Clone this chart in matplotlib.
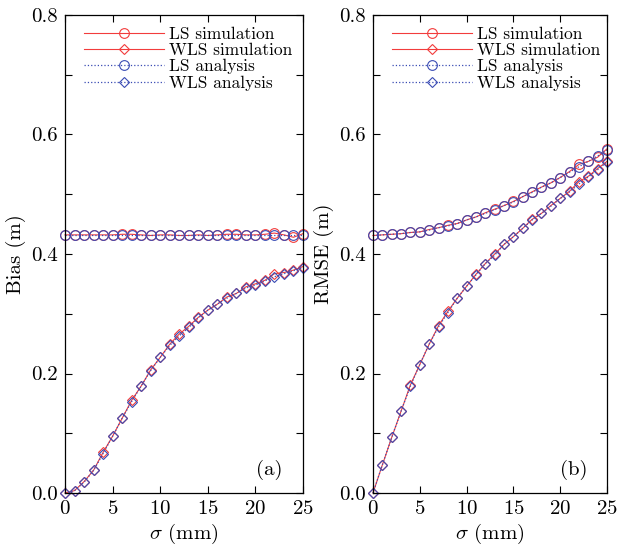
import numpy as np
import matplotlib
matplotlib.use("Agg")
import matplotlib.pyplot as plt
from matplotlib.ticker import MultipleLocator

plt.rcParams['font.family'] = ['cmr10', 'DejaVu Serif']
plt.rcParams['mathtext.fontset'] = 'cm'
plt.rcParams['axes.formatter.use_mathtext'] = True

sigma = np.arange(0, 26)

# panel (a): bias
bias_ls_ana = [0.432] * 26
bias_ls_sim = [0.432, 0.432, 0.432, 0.432, 0.432, 0.432, 0.433, 0.433, 0.432, 0.431,
               0.432, 0.432, 0.431, 0.431, 0.432, 0.431, 0.432, 0.433, 0.433, 0.432,
               0.432, 0.433, 0.435, 0.432, 0.428, 0.434]
bias_wls_ana = [0.0, 0.004, 0.018, 0.038, 0.066, 0.095, 0.125, 0.153, 0.179, 0.205,
                0.227, 0.247, 0.263, 0.277, 0.293, 0.306, 0.316, 0.326, 0.334, 0.343,
                0.348, 0.355, 0.362, 0.367, 0.372, 0.377]
bias_wls_sim = [0.0, 0.004, 0.019, 0.038, 0.068, 0.095, 0.125, 0.155, 0.179, 0.206,
                0.227, 0.249, 0.266, 0.279, 0.294, 0.306, 0.316, 0.328, 0.334, 0.345,
                0.350, 0.356, 0.367, 0.369, 0.373, 0.379]

# panel (b): RMSE
rmse_ls_ana = [0.431, 0.432, 0.433, 0.434, 0.436, 0.437, 0.440, 0.444, 0.447, 0.451,
               0.457, 0.462, 0.468, 0.474, 0.481, 0.487, 0.496, 0.503, 0.512, 0.519,
               0.528, 0.537, 0.546, 0.555, 0.564, 0.574]
rmse_ls_sim = [0.431, 0.432, 0.433, 0.434, 0.436, 0.437, 0.441, 0.444, 0.448, 0.451,
               0.457, 0.462, 0.469, 0.475, 0.481, 0.488, 0.496, 0.504, 0.512, 0.519,
               0.528, 0.538, 0.550, 0.555, 0.562, 0.576]
rmse_wls_ana = [0.0, 0.047, 0.093, 0.137, 0.179, 0.215, 0.249, 0.278, 0.302, 0.326,
                0.346, 0.365, 0.384, 0.398, 0.416, 0.429, 0.443, 0.457, 0.468, 0.480,
                0.493, 0.504, 0.517, 0.529, 0.541, 0.554]
rmse_wls_sim = [0.0, 0.047, 0.093, 0.137, 0.181, 0.215, 0.249, 0.280, 0.304, 0.326,
                0.346, 0.366, 0.384, 0.400, 0.416, 0.429, 0.443, 0.458, 0.468, 0.481,
                0.493, 0.505, 0.521, 0.530, 0.543, 0.555]

red = '#f23c3c'
blue = '#3a4cb4'


def draw_panel(ax, ls_sim, wls_sim, ls_ana, wls_ana, ylabel, tag):
    style = dict(mfc='none', mew=0.8, clip_on=False)
    ax.plot(sigma, ls_sim, '-', color=red, lw=0.8, marker='o', ms=7,
            mec=red, label='LS simulation', **style)
    ax.plot(sigma, wls_sim, '-', color=red, lw=0.8, marker='D', ms=5,
            mec=red, label='WLS simulation', **style)
    ax.plot(sigma, ls_ana, ':', color=blue, lw=0.9, marker='o', ms=7,
            mec=blue, label='LS analysis', **style)
    ax.plot(sigma, wls_ana, ':', color=blue, lw=0.9, marker='D', ms=5,
            mec=blue, label='WLS analysis', **style)

    ax.set_xlim(0, 25)
    ax.set_ylim(0, 0.8)
    ax.xaxis.set_major_locator(MultipleLocator(5))
    ax.yaxis.set_major_locator(MultipleLocator(0.2))
    ax.yaxis.set_minor_locator(MultipleLocator(0.1))
    ax.yaxis.set_major_formatter(plt.FormatStrFormatter('%.1f'))
    ax.tick_params(which='both', direction='in', top=True, right=True,
                   labelsize=15, length=5, width=0.8, pad=5)
    for s in ax.spines.values():
        s.set_linewidth(0.9)
    ax.set_xlabel(r'$\sigma$ (mm)', fontsize=15, labelpad=3)
    ax.set_ylabel(ylabel, fontsize=15, labelpad=4)
    ax.text(0.915, 0.048, tag, transform=ax.transAxes, ha='right', va='center',
            fontsize=15)
    ax.legend(loc='upper left', frameon=False, fontsize=12.5, handlelength=4.6,
              handletextpad=0.3, labelspacing=0.05, borderaxespad=0.0,
              bbox_to_anchor=(0.05, 0.99))


fig = plt.figure(figsize=(6.18, 5.54), dpi=100)
ax1 = fig.add_axes([65 / 618, 61 / 554, 238 / 618, 478 / 554])
ax2 = fig.add_axes([373 / 618, 61 / 554, 234 / 618, 478 / 554])

draw_panel(ax1, bias_ls_sim, bias_wls_sim, bias_ls_ana, bias_wls_ana,
           'Bias (m)', '(a)')
draw_panel(ax2, rmse_ls_sim, rmse_wls_sim, rmse_ls_ana, rmse_wls_ana,
           'RMSE (m)', '(b)')

fig.savefig('out.png', dpi=100)
